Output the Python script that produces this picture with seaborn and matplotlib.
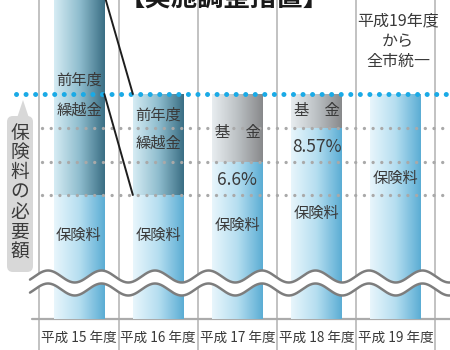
import numpy as np
import pandas as pd
import matplotlib
matplotlib.use("Agg")
import matplotlib.pyplot as plt
import seaborn as sns
from matplotlib.colors import LinearSegmentedColormap
from matplotlib.patches import Polygon, FancyBboxPatch
from matplotlib.transforms import Affine2D

# ---------------- data ----------------
years = ['平成 15 年度', '平成 16 年度', '平成 17 年度', '平成 18 年度', '平成 19 年度']
premium = [124, 124, 157, 191, 225]      # 保険料 (scaled height)
carryover = [200, 101, 0, 0, 0]          # 前年度繰越金
fund = [0, 0, 68, 34, 0]                 # 基金
fund_rate = ['', '', '6.6%', '8.57%', '']
top_kind = ['dark', 'dark', 'gray', 'gray', 'blue']
levels = [124, 157, 191]                 # gray dotted guides
need_level = 225                         # 保険料の必要額 (blue dotted)

totals = [p + c + f for p, c, f in zip(premium, carryover, fund)]

# ---------------- style ----------------
sns.set_theme(style="white")
plt.rcParams['font.family'] = ['Noto Sans CJK JP', 'DejaVu Sans']
TXT = '#3a3a3a'

fig = plt.figure(figsize=(4.5, 3.5), dpi=100)
ax = fig.add_axes([0, 0, 1, 1])
W, H = 450, 350
px = Affine2D().scale(1 / W, -1 / H).translate(0, 1) + fig.transFigure

df_tot = pd.DataFrame({'year': years, 'value': totals})
df_pre = pd.DataFrame({'year': years, 'value': premium})
sns.barplot(data=df_tot, x='year', y='value', ax=ax, width=0.64,
            color='gray', saturation=1, errorbar=None)
n0 = len(ax.patches)
sns.barplot(data=df_pre, x='year', y='value', ax=ax, width=0.64,
            color='blue', saturation=1, errorbar=None)
tot_patches = ax.patches[:n0]
pre_patches = ax.patches[n0:]

cmaps = {
    'blue': LinearSegmentedColormap.from_list('b', ['#e8f6fc', '#b5def0', '#5badd4']),
    'dark': LinearSegmentedColormap.from_list('d', ['#d6ecf4', '#8fbdce', '#3a6e84']),
    'gray': LinearSegmentedColormap.from_list('g', ['#e8edf0', '#bcc1c4', '#88898b']),
}
grad = np.linspace(0, 1, 256).reshape(1, -1)


def paint(patch, cmap, z):
    x0, y0 = patch.get_x(), patch.get_y()
    w, h = patch.get_width(), patch.get_height()
    if h <= 0:
        patch.set_visible(False)
        return
    ax.imshow(grad, extent=(x0, x0 + w, y0, y0 + h), origin='lower',
              aspect='auto', cmap=cmaps[cmap], zorder=z, interpolation='bilinear')
    patch.set_visible(False)


for p, k in zip(tot_patches, top_kind):
    paint(p, k, 1)
for p in pre_patches:
    paint(p, 'blue', 1.5)

xl = (-79 / 79.2, (450 - 79) / 79.2)
ax.set_xlim(*xl)
ax.set_ylim(-31, 319)
ax.set_axis_off()


def fx(p):  # pixel x -> axes fraction
    return p / W


# vertical separators
for i in range(len(years) + 1):
    ax.axvline(i - 0.5, color='#b8b8b8', lw=1.2, zorder=0.5)
# baseline
ax.axhline(0, xmin=fx(32), xmax=1, color='#ababab', lw=1.6, zorder=0.6)

# dotted guides
for lv in levels:
    ax.axhline(lv, xmin=fx(42), xmax=1, color='#a9a9a9', lw=2.4,
               ls=(0, (0.01, 2.6)), dash_capstyle='round', zorder=2)
ax.axhline(need_level, xmin=fx(16), xmax=1, color='#1aaae6', lw=3.6,
           ls=(0, (0.01, 1.9)), dash_capstyle='round', zorder=2.1)

# connecting lines between 15 and 16
b0, b1 = tot_patches[0], tot_patches[1]
r0 = b0.get_x() + b0.get_width()
l1 = b1.get_x()
ax.plot([r0, l1], [totals[0], totals[1]], color='#1e1e1e', lw=1.4, zorder=3.5)
ax.plot([r0, l1], [need_level, premium[1]], color='#1e1e1e', lw=1.4, zorder=3.5)

# wave (axis break)
xs = np.linspace((30 - 79) / 79.2, xl[1] + 0.05, 600)
xpx = xs * 79.2 + 79
cen = 36 + 6 * np.cos(2 * np.pi * (xpx - 48) / 53.5)
ax.fill_between(xs, cen - 6.5, cen + 6.5, color='white', zorder=3, lw=0)
ax.plot(xs, cen + 6.5, color='#7d7d7d', lw=1.8, zorder=3.1)
ax.plot(xs, cen - 6.5, color='#7d7d7d', lw=1.8, zorder=3.1)

# texts inside bars
fs = 11
for i, y in zip([0, 1, 2, 3, 4], [84, 84, 94, 106, 141]):
    ax.text(i, y, '保険料', ha='center', va='center', fontsize=fs, color=TXT, zorder=4)
ax.text(0, 239, '前年度', ha='center', va='center', fontsize=fs, color=TXT, zorder=4)
ax.text(0, 209, '繰越金', ha='center', va='center', fontsize=fs, color=TXT, zorder=4)
ax.text(1, 204, '前年度', ha='center', va='center', fontsize=fs, color=TXT, zorder=4)
ax.text(1, 176, '繰越金', ha='center', va='center', fontsize=fs, color=TXT, zorder=4)
for i, y in [(2, 186), (3, 209)]:
    ax.text(i, y, '基\u3000金', ha='center', va='center', fontsize=fs, color=TXT, zorder=4)
for i, y in [(2, 139), (3, 172)]:
    ax.text(i, y, fund_rate[i], ha='center', va='center', fontsize=12.5, color=TXT, zorder=4)

# category labels
for i, lab in enumerate(years):
    ax.text(i, -19, lab, ha='center', va='center', fontsize=9.8, color=TXT, zorder=4)

# left label box
fig.patches.append(FancyBboxPatch((7, 116), 26, 156, boxstyle='round,pad=0,rounding_size=6',
                                  transform=px, facecolor='#d8d8d8', edgecolor='none',
                                  zorder=3, figure=fig))
fig.patches.append(Polygon([(17, 118), (29, 118), (23, 100)], closed=True,
                           transform=px, facecolor='#d8d8d8', edgecolor='none',
                           figure=fig, zorder=3))
for k, ch in enumerate('保険料の必要額'):
    fig.text(20, 133 + 19.8 * k, ch, transform=px, ha='center', va='center',
             fontsize=13.5, color=TXT, zorder=5)

# right note
for k, line in enumerate(['平成19年度', 'から', '全市統一']):
    fig.text(398, 21 + 20 * k, line, transform=px, ha='center', va='center',
             fontsize=11.5, color=TXT)

# title (clipped at the top edge, as in the reference)
fig.text(224, 13, '【実施調整措置】', transform=px, ha='center', va='bottom',
         fontsize=19, fontweight='bold', color='#1a1a1a')
fig.text(357, 4, '図1', transform=px, ha='center', va='bottom',
         fontsize=19, fontweight='bold', color='#1aaae6')

fig.savefig('out.png', dpi=100)
